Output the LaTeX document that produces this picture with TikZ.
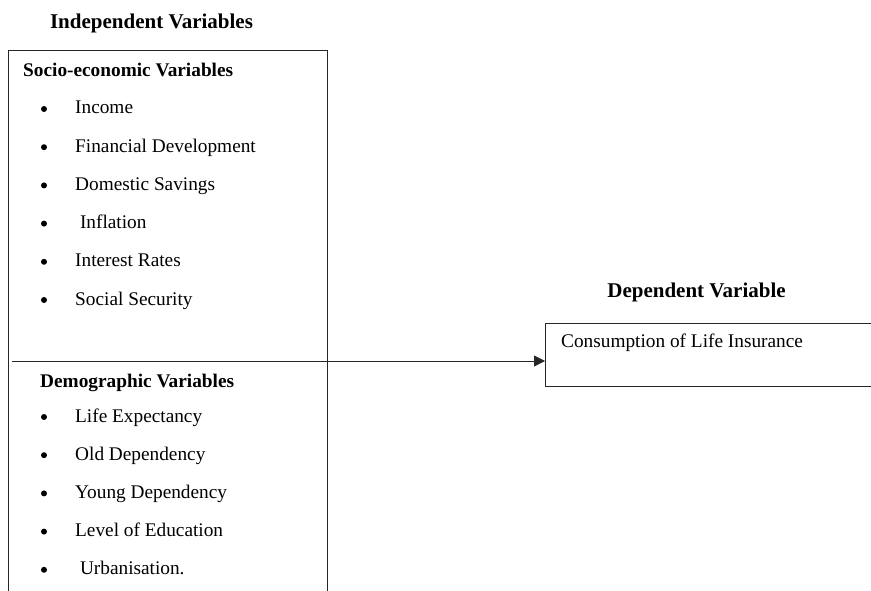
\documentclass[tikz,border=0pt]{standalone}
\usepackage{fontspec}
\setmainfont{Liberation Serif}
\usetikzlibrary{arrows.meta}

\begin{document}
\begin{tikzpicture}[x=1pt, y=-1pt,
  hd/.style={font=\bfseries\fontsize{21}{25}\selectfont, anchor=base, inner sep=0},
  sub/.style={font=\bfseries\fontsize{19.3}{23}\selectfont, anchor=base west, inner sep=0},
  txt/.style={font=\fontsize{19.3}{23}\selectfont, anchor=base west, inner sep=0},
  dot/.style={circle, fill=black, minimum size=6pt, inner sep=0},
  frame/.style={draw=black!85, line width=0.8pt}]
\useasboundingbox (0,0) rectangle (871,591);
\newcommand{\varlist}[3]{% first baseline, name prefix, list of items
  \foreach \t [count=\i from 0] in {#3} {
    \pgfmathsetmacro{\yb}{#1 + \i*38.2}
    \node[dot] (#2dot\i) at (44,\yb-5) {};
    \node[txt] (#2\i) at (75,\yb) {\t};
  }}
% independent side
\node[hd] (indep) at (151.5,29) {Independent Variables};
\draw[frame] (8,591) -- (8,50) -- (327,50) -- (327,591);
\node[sub] (socio) at (23,77) {Socio-economic Variables};
\varlist{114}{s}{Income, Financial Development, Domestic Savings, {\ Inflation}, Interest Rates, Social Security}
\node[sub] (demo) at (40,387) {Demographic Variables};
\varlist{422}{d}{Life Expectancy, Old Dependency, Young Dependency, Level of Education, {\ Urbanisation.}}
% dependent side
\node[hd] (depen) at (696.5,298) {Dependent Variable};
\draw[frame] (871,323) -- (545,323) -- (545,386) -- (871,386);
\node[txt] (cons) at (561,347) {Consumption of Life Insurance};
\coordinate (src) at (12,361);
\coordinate (dep) at (545,361);
\draw[frame, -{Triangle[length=11pt,width=11pt]}] (src) -- (dep);
\end{tikzpicture}
\end{document}
